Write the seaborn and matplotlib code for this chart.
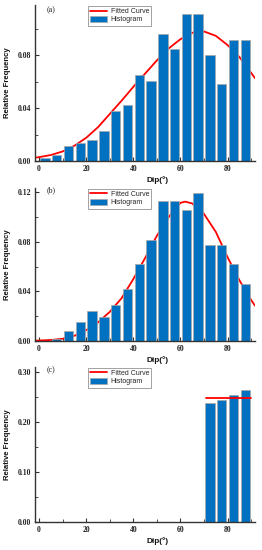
import matplotlib
matplotlib.use("Agg")
import matplotlib.pyplot as plt
import seaborn as sns
import pandas as pd
from matplotlib.ticker import MultipleLocator, FormatStrFormatter
from matplotlib.lines import Line2D
from matplotlib.patches import Patch

# ---------------- data ----------------
bin_centers = [2.5, 7.5, 12.5, 17.5, 22.5, 27.5, 32.5, 37.5, 42.5, 47.5,
               52.5, 57.5, 62.5, 67.5, 72.5, 77.5, 82.5, 87.5]
freq_a = [0.0025, 0.0045, 0.0114, 0.0134, 0.0156, 0.0225, 0.0379, 0.0424, 0.0646,
          0.0603, 0.0959, 0.0848, 0.1113, 0.1113, 0.0802, 0.0580, 0.0913, 0.0913]
freq_b = [0.0, 0.0019, 0.0084, 0.0152, 0.0241, 0.0195, 0.0287, 0.0420, 0.0618,
          0.0816, 0.1128, 0.1128, 0.1060, 0.1193, 0.0773, 0.0773, 0.0618, 0.0461]
centers_c = [72.5, 77.5, 82.5, 87.5]
freq_c = [0.2384, 0.2444, 0.2552, 0.2646]

fit_x_a = [-1.7, 0, 5, 10, 15, 20, 25, 30, 35, 40, 45, 50, 55, 60, 65, 68, 70, 75, 80, 85, 90, 91.6]
fit_a = [0.0025, 0.0029, 0.0045, 0.0072, 0.0115, 0.0175, 0.0255, 0.0355, 0.0455, 0.0560,
         0.0660, 0.0760, 0.0850, 0.0920, 0.0968, 0.0980, 0.0978, 0.0945, 0.0875, 0.0785,
         0.0665, 0.0625]
fit_x_b = [-1.7, 0, 5, 10, 15, 20, 25, 30, 35, 40, 45, 50, 55, 60, 62, 65, 70, 75, 80, 85, 90, 91.6]
fit_b = [0.0003, 0.0004, 0.0008, 0.0018, 0.0042, 0.0088, 0.0150, 0.0235, 0.0345, 0.0500,
         0.0670, 0.0850, 0.1000, 0.1115, 0.1125, 0.1110, 0.1025, 0.0880, 0.0675, 0.0490,
         0.0330, 0.0285]
fit_x_c = [71.0, 89.8]
fit_c = [0.2485, 0.2485]

panel_labels = ["(a)", "(b)", "(c)"]

# ---------------- style ----------------
sns.set_style("white")
plt.rcParams["font.family"] = ["Liberation Sans", "DejaVu Sans"]

BLUE = "#0070C0"
RED = "#FF0000"
EDGE = "#A8A8A8"
SPINE = "#333333"

fig = plt.figure(figsize=(2.62, 5.5), dpi=100)

L = 35 / 262
W = 220 / 262
panels = [
    dict(top=5, bot=161, ymax=0.1178, major=0.04, minor=0.02, fmt="%.2f",
         x=bin_centers, y=freq_a, fx=fit_x_a, fy=fit_a, line_top=False, ly=0.965),
    dict(top=188, bot=341, ymax=0.1235, major=0.04, minor=0.02, fmt="%.2f",
         x=bin_centers, y=freq_b, fx=fit_x_b, fy=fit_b, line_top=False, ly=0.984),
    dict(top=367, bot=522, ymax=0.311, major=0.10, minor=0.05, fmt="%.2f",
         x=centers_c, y=freq_c, fx=fit_x_c, fy=fit_c, line_top=True, ly=0.977),
]

for i, p in enumerate(panels):
    ax = fig.add_axes([L, 1 - p["bot"] / 550, W, (p["bot"] - p["top"]) / 550])
    df = pd.DataFrame({"dip": p["x"], "freq": p["y"]})
    fit_df = pd.DataFrame({"dip": p["fx"], "freq": p["fy"]})
    z_line = 4 if p["line_top"] else 1
    sns.lineplot(data=fit_df, x="dip", y="freq", color=RED, linewidth=1.3,
                 ax=ax, zorder=z_line, legend=False)
    sns.barplot(data=df, x="dip", y="freq", native_scale=True, width=0.8,
                color=BLUE, saturation=1, edgecolor=EDGE, linewidth=0.5,
                errorbar=None, ax=ax, zorder=2)
    ax.set_xlim(-1.7, 91.6)
    ax.set_ylim(0, p["ymax"])

    for s in ["top", "right"]:
        ax.spines[s].set_visible(False)
    for s in ["left", "bottom"]:
        ax.spines[s].set_color(SPINE)
        ax.spines[s].set_linewidth(1.0)

    ax.xaxis.set_major_locator(MultipleLocator(20))
    ax.xaxis.set_minor_locator(MultipleLocator(10))
    ax.yaxis.set_major_locator(MultipleLocator(p["major"]))
    ax.yaxis.set_minor_locator(MultipleLocator(p["minor"]))
    ax.yaxis.set_major_formatter(FormatStrFormatter(p["fmt"]))
    ax.tick_params(which="major", direction="in", length=3, width=0.8, color=SPINE,
                   pad=3, labelsize=5.6)
    ax.tick_params(which="minor", direction="in", length=2, width=0.6, color=SPINE)
    ax.tick_params(axis="x", which="both", bottom=True)
    ax.tick_params(axis="y", which="both", left=True)
    for lab in ax.get_xticklabels() + ax.get_yticklabels():
        lab.set_family(["Liberation Serif", "DejaVu Serif"])
        lab.set_fontweight("bold")
        lab.set_color("#222222")

    ax.set_xlabel("Dip(°)", fontsize=5.9, fontweight="bold", color="#111111")
    ax.set_ylabel("Relative Frequency", fontsize=5.6, fontweight="bold", color="#111111")
    ax.xaxis.set_label_coords(0.555, -0.122)
    ax.xaxis.label.set_va("center")
    ax.yaxis.set_label_coords(-0.123, 0.5)
    ax.yaxis.label.set_va("center")

    ax.text(0.055, p["ly"], panel_labels[i], transform=ax.transAxes, fontsize=5.8,
            family=["Liberation Serif", "DejaVu Serif"], va="center", ha="left",
            color="#222222")

    handles = [Line2D([0], [0], color=RED, linewidth=1.3),
               Patch(facecolor=BLUE, edgecolor=EDGE, linewidth=0.5)]
    leg = ax.legend(handles, ["Fitted Curve", "Histogram"], loc="upper left",
                    bbox_to_anchor=(0.24, 0.995), borderaxespad=0, fontsize=5.0,
                    frameon=True, fancybox=False, edgecolor="#777777",
                    handlelength=2.4, handleheight=0.9, handletextpad=0.6,
                    borderpad=0.3, labelspacing=0.15)
    leg.get_frame().set_linewidth(0.6)
    leg.set_zorder(10)

fig.savefig("out.png", dpi=100)
